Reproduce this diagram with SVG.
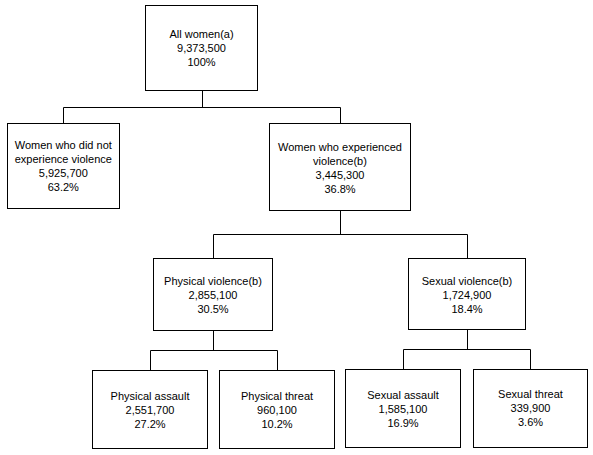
<svg xmlns="http://www.w3.org/2000/svg" width="593" height="455" viewBox="0 0 593 455">
<style>
  .box { fill: #fff; stroke: #000; stroke-width: 1; }
  .lbl { font-family: "Liberation Sans", Arial, sans-serif; font-size: 11px; fill: #000; text-anchor: middle; }
  .conn { fill: none; stroke: #000; stroke-width: 1; }
</style>
<rect x="0" y="0" width="593" height="455" fill="#fff"/>
<g id="connectors">
  <path class="conn" d="M202.5 90.5 V107.5 M63.5 123.5 V107.5 H340.5 V123.5"/>
  <path class="conn" d="M340.5 210.5 V234.5 M213.5 258.5 V234.5 H467.5 V258.5"/>
  <path class="conn" d="M213.5 330.5 V350.5 M150.5 370.5 V350.5 H277.5 V370.5"/>
  <path class="conn" d="M467.5 329.5 V349.5 M403.5 369.5 V349.5 H530.5 V369.5"/>
</g>
<g id="all-women">
  <rect class="box" x="145.5" y="5.5" width="112" height="85"/>
  <text class="lbl" x="201.5" y="38.3">All women(a)</text>
  <text class="lbl" x="201.5" y="52.3">9,373,500</text>
  <text class="lbl" x="201.5" y="66.3">100%</text>
</g>
<g id="no-violence">
  <rect class="box" x="7.5" y="123.5" width="112" height="85"/>
  <text class="lbl" x="63.3" y="149.3">Women who did not</text>
  <text class="lbl" x="63.3" y="163.3">experience violence</text>
  <text class="lbl" x="63.3" y="177.3">5,925,700</text>
  <text class="lbl" x="63.3" y="191.3">63.2%</text>
</g>
<g id="experienced">
  <rect class="box" x="269.5" y="123.5" width="141" height="87"/>
  <text class="lbl" x="340" y="151.3">Women who experienced</text>
  <text class="lbl" x="340" y="165.3">violence(b)</text>
  <text class="lbl" x="340" y="179.3">3,445,300</text>
  <text class="lbl" x="340" y="193.3">36.8%</text>
</g>
<g id="physical-violence">
  <rect class="box" x="153.5" y="258.5" width="119" height="72"/>
  <text class="lbl" x="213" y="285.3">Physical violence(b)</text>
  <text class="lbl" x="213" y="299.3">2,855,100</text>
  <text class="lbl" x="213" y="313.3">30.5%</text>
</g>
<g id="sexual-violence">
  <rect class="box" x="408.5" y="258.5" width="117" height="71"/>
  <text class="lbl" x="467" y="285.3">Sexual violence(b)</text>
  <text class="lbl" x="467" y="299.3">1,724,900</text>
  <text class="lbl" x="467" y="313.3">18.4%</text>
</g>
<g id="physical-assault">
  <rect class="box" x="92.5" y="370.5" width="115" height="78"/>
  <text class="lbl" x="150" y="400.3">Physical assault</text>
  <text class="lbl" x="150" y="414.3">2,551,700</text>
  <text class="lbl" x="150" y="428.3">27.2%</text>
</g>
<g id="physical-threat">
  <rect class="box" x="219.5" y="370.5" width="115" height="78"/>
  <text class="lbl" x="277" y="400.3">Physical threat</text>
  <text class="lbl" x="277" y="414.3">960,100</text>
  <text class="lbl" x="277" y="428.3">10.2%</text>
</g>
<g id="sexual-assault">
  <rect class="box" x="345.5" y="369.5" width="115" height="78"/>
  <text class="lbl" x="403" y="399.3">Sexual assault</text>
  <text class="lbl" x="403" y="413.3">1,585,100</text>
  <text class="lbl" x="403" y="427.3">16.9%</text>
</g>
<g id="sexual-threat">
  <rect class="box" x="473.5" y="369.5" width="114" height="78"/>
  <text class="lbl" x="530.5" y="398">Sexual threat</text>
  <text class="lbl" x="530.5" y="412">339,900</text>
  <text class="lbl" x="530.5" y="426">3.6%</text>
</g>
</svg>
